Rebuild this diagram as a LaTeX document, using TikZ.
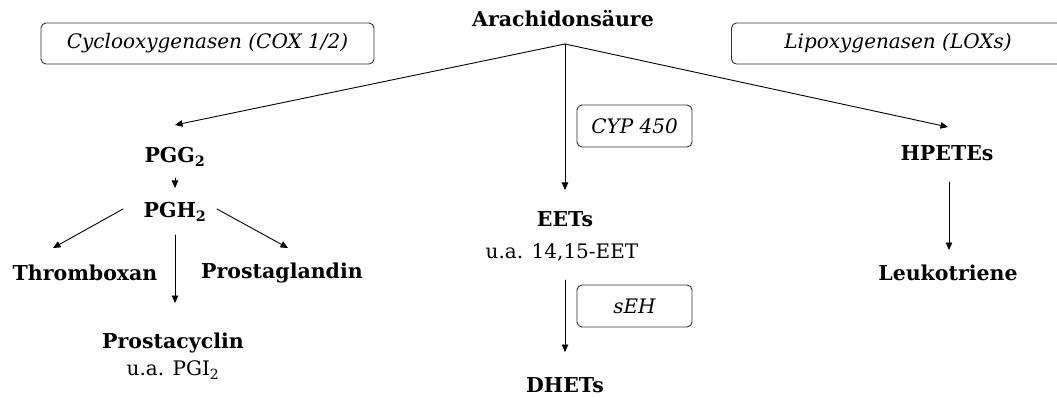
\documentclass[tikz,border=0pt]{standalone}
\usepackage{fontspec}
\setmainfont{DejaVu Serif}
\usetikzlibrary{arrows.meta,calc}

\begin{document}
\begin{tikzpicture}[x=1pt,y=-1pt,>={Triangle[length=7.5pt,width=6.5pt]},line cap=round,line join=round,
  lbl/.style={inner sep=0pt,font=\fontsize{20.5}{24}\selectfont\bfseries},
  note/.style={inner sep=0pt,font=\fontsize{20}{24}\selectfont},
  enz/.style={draw=black!80,line width=0.9pt,rounded corners=5pt,inner sep=0pt,font=\fontsize{20}{24}\selectfont\itshape},
  flow/.style={->,line width=0.9pt}]
\useasboundingbox (0,0) rectangle (1057,398);
\clip (0,0) rectangle (1057,398);
% substrate and the three pathways
\node[lbl] (ara) at (563,19) {Arachidonsäure};
\coordinate (fork) at (565,44);
\node[enz,minimum width=333pt,minimum height=41pt] (cox) at (207.5,43.5) {Cyclooxygenasen (COX 1/2)};
\node[enz,minimum width=333pt,minimum height=41pt] (lox) at (898,43.5) {Lipoxygenasen (LOXs)};
\node[enz,minimum width=115pt,minimum height=42pt] (cyp) at (634.5,126) {CYP 450};
\node[enz,minimum width=115pt,minimum height=42pt] (seh) at (634.5,306) {sEH};
% COX branch
\node[lbl] (pgg) at (175,157) {PGG\textsubscript{2}};
\node[lbl] (pgh) at (175,212) {PGH\textsubscript{2}};
\node[lbl] (thr) at (85,273) {Thromboxan};
\node[lbl] (prg) at (282,273) {Prostaglandin};
\node[lbl] (pcy) at (173,343) {Prostacyclin};
\node[note] (pgi) at (173,370) {u.a. PGI\textsubscript{2}};
% CYP branch
\node[lbl] (eet) at (565,219) {EETs};
\node[note] (eet2) at (562,252) {u.a. 14,15-EET};
\node[lbl] (dhet) at (565,385) {DHETs};
% LOX branch
\node[lbl] (hpete) at (947,153) {HPETEs};
\node[lbl] (leuk) at (948,273) {Leukotriene};
% arrows
\draw[flow] (fork) -- ($(pgg)+(0,-32)$);
\draw[flow] (fork) -- ($(eet)+(0,-29)$);
\draw[flow] (fork) -- ($(hpete)+(1,-26)$);
\draw[flow] ($(pgg)+(0,21)$) -- ($(pgh)+(0,-24)$);
\draw[flow] ($(pgh)+(-52,-3)$) -- ($(thr)+(-32,-25)$);
\draw[flow] ($(pgh)+(42,-3)$) -- ($(prg)+(6,-25)$);
\draw[flow] ($(pgh)+(0,23)$) -- ($(pcy)+(2,-40)$);
\draw[flow] ($(eet2)+(3,28)$) -- ($(dhet)+(0,-33)$);
\draw[flow] ($(hpete)+(2,29)$) -- ($(leuk)+(1,-23)$);
\end{tikzpicture}
\end{document}
